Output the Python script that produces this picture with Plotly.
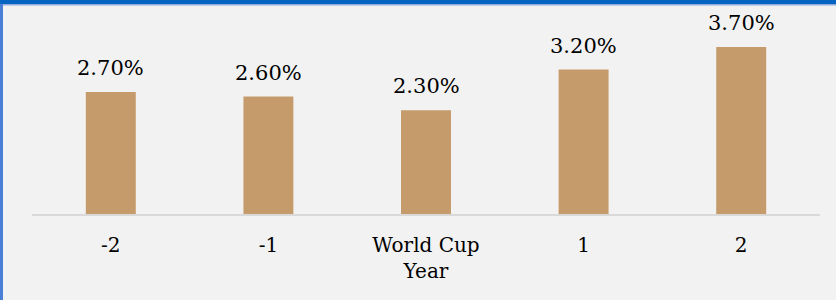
import plotly.graph_objects as go

categories = ["-2", "-1", "World Cup<br>Year", "1", "2"]
values = [2.7, 2.6, 2.3, 3.2, 3.7]
labels = ["2.70%", "2.60%", "2.30%", "3.20%", "3.70%"]
positions = list(range(len(categories)))

W, H = 836, 300
L, R, T, B = 32, 16, 5, 86
pw, ph = W - L - R, H - T - B
ymax = ph / 45.15

def px(x):
    return (x - L) / pw

def py(y):
    return (H - B - y) / ph

fig = go.Figure(go.Bar(
    x=positions, y=values, width=0.317,
    marker=dict(color="#C59B6C", line=dict(width=0)),
    hoverinfo="skip",
))

for p, v, t in zip(positions, values, labels):
    fig.add_annotation(x=p, y=v, text=t, showarrow=False, yanchor="bottom",
                       yshift=10, font=dict(family="DejaVu Serif", size=21, color="#000000"))

fig.update_layout(
    width=W, height=H,
    margin=dict(l=L, r=R, t=T, b=B),
    paper_bgcolor="#F2F2F2", plot_bgcolor="#F2F2F2",
    showlegend=False,
    xaxis=dict(range=[-0.5, len(categories) - 0.5], tickvals=positions, ticktext=categories,
               showgrid=False, zeroline=False, showline=True, linecolor="#D9D9D9", linewidth=2,
               ticks="outside", ticklen=12, tickcolor="rgba(0,0,0,0)",
               tickfont=dict(family="DejaVu Serif", size=20, color="#000000"),
               fixedrange=True),
    yaxis=dict(range=[0, ymax], visible=False, fixedrange=True),
    shapes=[
        dict(type="rect", xref="paper", yref="paper", x0=px(0), x1=px(W), y0=py(4), y1=py(0),
             fillcolor="#0563C1", line=dict(width=0), layer="above"),
        dict(type="rect", xref="paper", yref="paper", x0=px(0), x1=px(W), y0=py(5.5), y1=py(4),
             fillcolor="#8FAADC", line=dict(width=0), layer="above"),
        dict(type="rect", xref="paper", yref="paper", x0=px(0), x1=px(3), y0=py(H), y1=py(4),
             fillcolor="#4A7FD8", line=dict(width=0), layer="above"),
    ],
)

fig.write_html(
    "out.html",
    config={"displayModeBar": False, "staticPlot": True},
    post_script="document.documentElement.style.margin='0';document.documentElement.style.background='#F2F2F2';document.documentElement.style.overflow='hidden';document.body.style.margin='0';document.body.style.background='#F2F2F2';document.body.style.overflow='hidden';",
)
